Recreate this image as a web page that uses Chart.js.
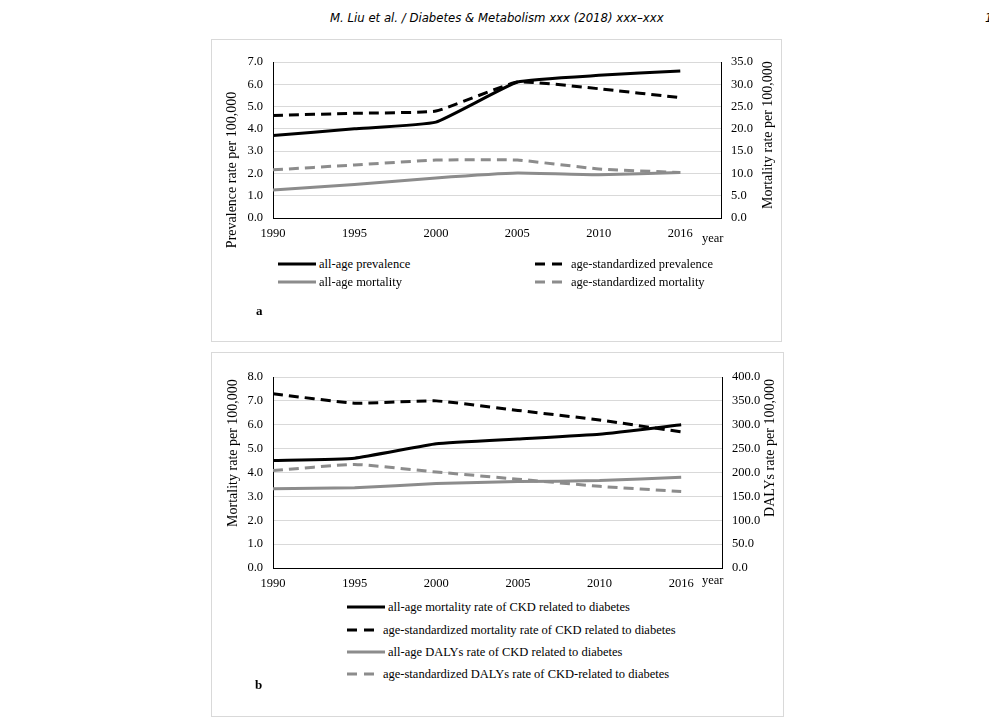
<!DOCTYPE html>
<html>
<head>
<meta charset="utf-8">
<script src="https://cdn.jsdelivr.net/npm/chart.js@4"></script>
<style>
  body { margin: 0; background: #fff; width: 989px; height: 725px; position: relative; overflow: hidden; font-family: "Liberation Serif", serif; color: #000; }
  .abs { position: absolute; }
  .box { position: absolute; border: 1px solid #d9d9d9; }
  .hdr { font-family: "Liberation Sans Narrow", "DejaVu Sans Condensed", sans-serif; font-style: italic; font-size: 13px; white-space: nowrap; }
  .lg { position: absolute; font-size: 12.5px; white-space: nowrap; display: flex; align-items: center; height: 16px; }
  .lg svg { margin-right: 3px; }
  .year { font-size: 12.5px; }
  .tag { font-size: 13px; font-weight: bold; }
  .vt { position: absolute; font-size: 14px; white-space: nowrap; transform: translate(-50%, -50%) rotate(-90deg); }
</style>
</head>
<body>
<div class="abs hdr" style="left:330px; top:10px;">M. Liu et al. / Diabetes &amp; Metabolism xxx (2018) xxx–xxx</div>
<div class="abs hdr" style="left:985px; top:10px;">1</div>

<div class="box" style="left:211px; top:39px; width:569px; height:301px;"></div>
<div class="box" style="left:211px; top:352px; width:571px; height:363px;"></div>

<canvas id="chartA" class="abs" style="left:212px; top:44px;"></canvas>
<canvas id="chartB" class="abs" style="left:212px; top:359px;"></canvas>

<div class="vt" style="left:232px; top:170px;">Prevalence rate per 100,000</div>
<div class="vt" style="left:768px; top:135px;">Mortality rate per 100,000</div>
<div class="vt" style="left:233px; top:453px;">Mortality rate per 100,000</div>
<div class="vt" style="left:770px; top:448px;">DALYs rate per 100,000</div>

<div class="abs year" style="left:702px; top:231px;">year</div>
<div class="abs year" style="left:702px; top:573px;">year</div>

<div id="legendA"></div>
<div id="legendB"></div>

<div class="abs tag" style="left:256px; top:303px;">a</div>
<div class="abs tag" style="left:255px; top:677px;">b</div>

<script>
// shared x categories
var years = ['1990', '1995', '2000', '2005', '2010', '2016'];

// chart a: prevalence (left axis) and mortality (right axis)
var prevAllAge = [3.7, 4.0, 4.3, 6.1, 6.4, 6.6];
var prevAgeStd = [4.6, 4.7, 4.8, 6.1, 5.8, 5.4];
var mortAllAge = [6.3, 7.5, 9.0, 10.1, 9.7, 10.2];
var mortAgeStd = [10.8, 11.9, 13.0, 13.0, 11.0, 10.2];

// chart b: CKD mortality (left axis) and DALYs (right axis)
var ckdMortAllAge = [4.5, 4.6, 5.2, 5.4, 5.6, 6.0];
var ckdMortAgeStd = [7.3, 6.9, 7.0, 6.6, 6.2, 5.7];
var dalysAllAge = [166, 168, 177, 181, 183, 190];
var dalysAgeStd = [204, 217, 201, 186, 171, 160];

var BLACK = '#000000';
var GREY = '#8c8c8c';
var DASH = [10, 6];
var FONT = 'Liberation Serif';

function points(values) {
    return values.map(function (v, i) { return { x: i, y: v }; });
}

function line(label, values, color, dashed, axis) {
    return {
        label: label,
        data: points(values),
        borderColor: color,
        backgroundColor: color,
        borderWidth: 3,
        borderDash: dashed ? DASH : [],
        pointRadius: 0,
        tension: 0.12,
        yAxisID: axis
    };
}

function drawChart(id, width, height, datasets, left, right) {
    var canvas = document.getElementById(id);
    canvas.width = width;
    canvas.height = height;
    return new Chart(canvas.getContext('2d'), {
        type: 'line',
        data: { datasets: datasets },
        options: {
            responsive: false,
            animation: false,
            layout: { padding: { top: 18, left: 0, right: 0, bottom: 0 } },
            plugins: { legend: { display: false }, tooltip: { enabled: false } },
            scales: {
                x: {
                    type: 'linear',
                    min: 0,
                    max: 5.5,
                    grid: { display: false, drawTicks: false },
                    border: { color: BLACK, width: 1 },
                    ticks: {
                        stepSize: 1,
                        includeBounds: false,
                        maxRotation: 0,
                        padding: 8,
                        color: BLACK,
                        font: { family: FONT, size: 12.5 },
                        callback: function (v) { return years[v]; }
                    },
                    afterFit: function (s) { s.height = 30; }
                },
                y: {
                    position: 'left',
                    min: 0,
                    max: left.max,
                    grid: { color: '#d9d9d9', drawTicks: false },
                    border: { color: BLACK, width: 1 },
                    ticks: {
                        stepSize: left.step,
                        padding: 10,
                        color: BLACK,
                        font: { family: FONT, size: 12.5 },
                        callback: function (v) { return v.toFixed(1); }
                    },
                    afterFit: function (s) { s.width = 61; }
                },
                y1: {
                    position: 'right',
                    min: 0,
                    max: right.max,
                    grid: { display: false, drawTicks: false },
                    border: { color: BLACK, width: 1 },
                    ticks: {
                        stepSize: right.step,
                        padding: 10,
                        color: BLACK,
                        font: { family: FONT, size: 12.5 },
                        callback: function (v) { return v.toFixed(1); }
                    },
                    afterFit: function (s) { s.width = 58; }
                }
            }
        }
    });
}

drawChart('chartA', 567, 204, [
    line('all-age prevalence', prevAllAge, BLACK, false, 'y'),
    line('age-standardized prevalence', prevAgeStd, BLACK, true, 'y'),
    line('all-age mortality', mortAllAge, GREY, false, 'y1'),
    line('age-standardized mortality', mortAgeStd, GREY, true, 'y1')
], { max: 7, step: 1 }, { max: 35, step: 5 });

drawChart('chartB', 568, 239, [
    line('all-age mortality rate of CKD related to diabetes', ckdMortAllAge, BLACK, false, 'y'),
    line('age-standardized mortality rate of CKD related to diabetes', ckdMortAgeStd, BLACK, true, 'y'),
    line('all-age DALYs rate of CKD related to diabetes', dalysAllAge, GREY, false, 'y1'),
    line('age-standardized DALYs rate of CKD-related to diabetes', dalysAgeStd, GREY, true, 'y1')
], { max: 8, step: 1 }, { max: 400, step: 50 });

// html legends
function sample(color, dashed, w) {
    var dash = dashed ? ' stroke-dasharray="10 7"' : '';
    return '<svg width="' + w + '" height="4"><line x1="0" y1="2" x2="' + w + '" y2="2" stroke="' + color + '" stroke-width="3"' + dash + '/></svg>';
}

function legendItem(parent, x, y, color, dashed, w, text) {
    var d = document.createElement('div');
    d.className = 'lg';
    d.style.left = x + 'px';
    d.style.top = (y - 8) + 'px';
    d.innerHTML = sample(color, dashed, w) + '<span>' + text + '</span>';
    document.getElementById(parent).appendChild(d);
}

legendItem('legendA', 278, 264, BLACK, false, 38, 'all-age prevalence');
legendItem('legendA', 535, 264, BLACK, true, 33, 'age-standardized prevalence');
legendItem('legendA', 278, 282, GREY, false, 38, 'all-age mortality');
legendItem('legendA', 535, 282, GREY, true, 33, 'age-standardized mortality');

legendItem('legendB', 347, 607, BLACK, false, 38, 'all-age mortality rate of CKD related to diabetes');
legendItem('legendB', 347, 630, BLACK, true, 33, 'age-standardized mortality rate of CKD related to diabetes');
legendItem('legendB', 347, 652, GREY, false, 38, 'all-age DALYs rate of CKD related to diabetes');
legendItem('legendB', 347, 674, GREY, true, 33, 'age-standardized DALYs rate of CKD-related to diabetes');
</script>
</body>
</html>
